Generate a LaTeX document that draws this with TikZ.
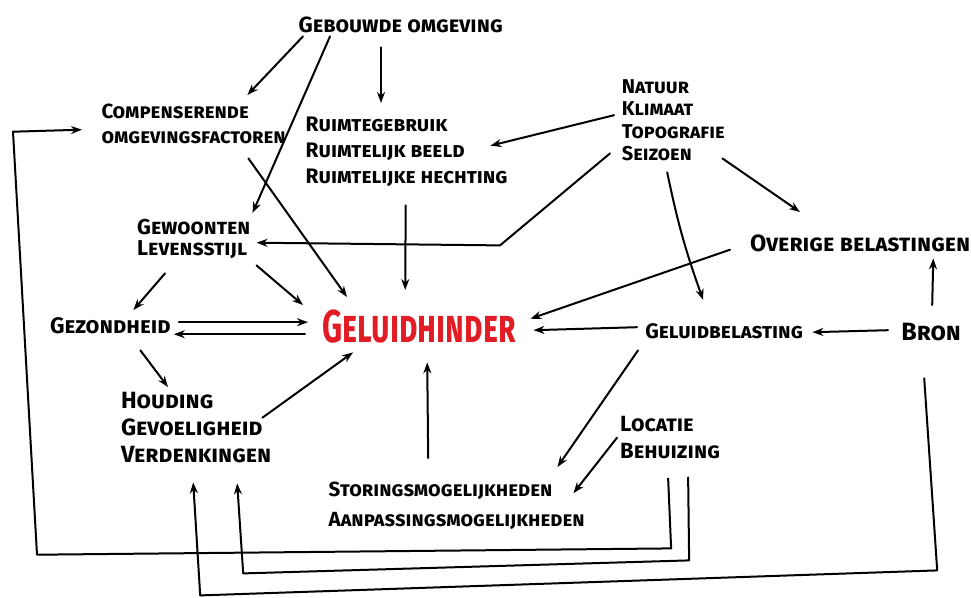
\documentclass[tikz,border=0pt]{standalone}
\usepackage{fontspec}
\setmainfont{Fira Sans}
\usetikzlibrary{arrows.meta}
\definecolor{hinderred}{RGB}{226,28,36}
\newcommand{\fsz}[2]{\fontsize{#1}{#2}\selectfont\bfseries\scshape}
\tikzset{
  lbl/.style={inner sep=0pt, anchor=north west, align=left, font=\fsz{21}{25}},
  arr/.style={line width=2pt, line cap=round, line join=round, -{Stealth[length=11pt,width=8pt]}},
}
\begin{document}
\begin{tikzpicture}[x=1pt,y=-1pt]
\useasboundingbox (0,0) rectangle (971,597);
% nodes
\node[lbl, minimum width=205, minimum height=22, font=\fsz{22}{25}] (geb) at (298,14) {Gebouwde omgeving};
\node[lbl, minimum width=187, minimum height=47, font=\fsz{20.5}{25}] (comp) at (100,100) {Compenserende\\omgevingsfactoren};
\node[lbl, minimum width=203, minimum height=77, font=\fsz{21}{26}] (ruim) at (305,113) {Ruimtegebruik\\Ruimtelijk beeld\\Ruimtelijke hechting};
\node[lbl, minimum width=106, minimum height=84, font=\fsz{20}{22.5}] (nat) at (620,78) {Natuur\\Klimaat\\Topografie\\Seizoen};
\node[lbl, minimum width=109, minimum height=47, font=\fsz{21.5}{21}] (gew) at (137,215) {Gewoonten\\Levensstijl};
\node[lbl, minimum width=218, minimum height=23, font=\fsz{23.5}{25}] (ov) at (750,232) {Overige belastingen};
\node[lbl, minimum width=120, minimum height=24, font=\fsz{22.5}{25}] (gez) at (50,313) {Gezondheid};
\node[lbl, minimum width=198, minimum height=37, text=hinderred, font=\fsz{46}{46}] (gh) at (320,308) {\scalebox{0.68}[1]{Geluidhinder}};
\node[lbl, minimum width=158, minimum height=22, font=\fsz{21}{25}] (gb) at (645,320) {Geluidbelasting};
\node[lbl, minimum width=62, minimum height=20, font=\fsz{25}{25}] (bron) at (900,322) {Bron};
\node[lbl, minimum width=152, minimum height=75, font=\fsz{23.5}{27}] (hou) at (120,390) {Houding\\Gevoeligheid\\Verdenkingen};
\node[lbl, minimum width=98, minimum height=49, font=\fsz{22}{27}] (loc) at (620,413) {Locatie\\Behuizing};
\node[lbl, minimum width=257, minimum height=52, font=\fsz{20.5}{30}] (sto) at (328,480) {Storingsmogelijkheden\\Aanpassingsmogelijkheden};
% arrows
\draw[arr] ([shift={(5,0)}]geb.south west) -- ([shift={(-40,-5)}]comp.north east);
\draw[arr] ([shift={(32,0)}]geb.south west) -- ([shift={(2,-2)}]gew.north east);
\draw[arr] ([shift={(83,11)}]geb.south west) -- ([shift={(76,-10)}]ruim.north west);
\draw[arr] ([shift={(-6,-5)}]nat.west) -- ([shift={(-18,-6)}]ruim.east);
\draw[arr] ([shift={(-10,-9)}]nat.south west) -- ([shift={(-120,83)}]nat.south west) -- ([shift={(6,4)}]gew.east);
\draw[arr] ([shift={(-6,10)}]nat.south) to[bend right=4] ([shift={(-21,-20)}]gb.north);
\draw[arr] ([shift={(-4,-4)}]nat.south east) -- ([shift={(50,-20)}]ov.north west);
\draw[arr] ([shift={(-39,11)}]comp.south east) -- ([shift={(27,-11)}]gh.north west);
\draw[arr] ([shift={(-1,15)}]ruim.south) -- ([shift={(-14,-18)}]gh.north);
\draw[arr] ([shift={(6,3)}]gew.south east) -- ([shift={(-17,-3)}]gh.north west);
\draw[arr] ([shift={(28,11)}]gew.south west) -- ([shift={(23,-3)}]gez.north);
\draw[arr] ([shift={(-20,6)}]ov.west) -- ([shift={(12,-8)}]gh.east);
\draw[arr] ([shift={(8,-3)}]gez.east) -- ([shift={(-12,-4.5)}]gh.west);
\draw[arr] ([shift={(-15,7.5)}]gh.west) -- ([shift={(3,9)}]gez.east);
\draw[arr] ([shift={(-8,-4)}]gb.west) -- ([shift={(15,3.5)}]gh.east);
\draw[arr] ([shift={(-12,-2)}]bron.west) -- ([shift={(9,1)}]gb.east);
\draw[arr] ([shift={(1,-17)}]bron.north) -- ([shift={(73,3)}]ov.south);
\draw[arr] ([shift={(30,13)}]gez.south) -- ([shift={(48,-3)}]hou.north west);
\draw[arr] ([shift={(-10,-10)}]hou.east) -- ([shift={(33,7)}]gh.south west);
\draw[arr] ([shift={(-28.5,-22)}]sto.north) -- ([shift={(8,17)}]gh.south);
\draw[arr] ([shift={(-7,8)}]gb.south west) -- ([shift={(-28,-13)}]sto.north east);
\draw[arr] ([shift={(-3,0)}]loc.west) -- ([shift={(-12,-13)}]sto.east);
% feedback loops
\draw[arr] ([shift={(-2,16)}]loc.south) -- ([shift={(1,86)}]loc.south) -- ([shift={(-63,431)}]comp.west) -- ([shift={(-87,8)}]comp.west) -- ([shift={(-18,6)}]comp.west);
\draw[arr] ([shift={(18,15)}]loc.south) -- ([shift={(19,98)}]loc.south) -- ([shift={(47,108)}]hou.south) -- ([shift={(41,18)}]hou.south);
\draw[arr] ([shift={(-7,36)}]bron.south) -- ([shift={(6,228)}]bron.south) -- ([shift={(4,130)}]hou.south) -- ([shift={(-3,17)}]hou.south);
\end{tikzpicture}
\end{document}
